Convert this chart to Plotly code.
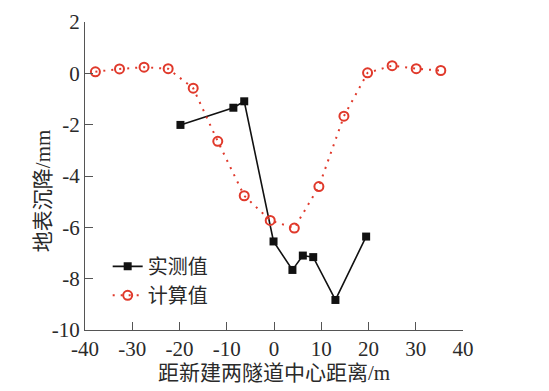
import plotly.graph_objects as go

meas_x = [-19.8, -8.6, -6.3, -0.1, 3.9, 6.1, 8.3, 13.0, 19.5]
meas_y = [-2.01, -1.34, -1.09, -6.55, -7.66, -7.10, -7.16, -8.83, -6.36]

calc_x = [-37.8, -32.7, -27.5, -22.4, -17.1, -11.9, -6.3, -0.8, 4.3, 9.5, 14.8, 19.8, 25.0, 30.1, 35.3]
calc_y = [0.06, 0.17, 0.24, 0.18, -0.58, -2.65, -4.77, -5.73, -6.03, -4.41, -1.67, 0.02, 0.30, 0.18, 0.11]

x_ticks = [-40, -30, -20, -10, 0, 10, 20, 30, 40]
y_ticks = [2, 0, -2, -4, -6, -8, -10]

red = "#e0392b"
serif = "Liberation Serif, Times New Roman, serif"
cjk = "Liberation Serif, Noto Sans CJK SC"
txt = "#2a2a2a"

fig = go.Figure()
fig.add_trace(go.Scatter(
    x=meas_x, y=meas_y, mode="lines+markers", name="实测值",
    line=dict(color="#111111", width=1.6),
    marker=dict(symbol="square", size=8, color="#111111"),
))
fig.add_trace(go.Scatter(
    x=calc_x, y=calc_y, mode="lines+markers", name="计算值",
    line=dict(color=red, width=2, dash="2px,6px"),
    marker=dict(symbol="circle-open", size=9, color=red, line=dict(width=2, color=red)),
))

axis_common = dict(
    showgrid=False, zeroline=False, showline=True, linecolor="#555555", linewidth=1.2,
    ticks="inside", ticklen=8, tickwidth=1.2, tickcolor="#555555",
    tickfont=dict(family=serif, size=21, color=txt), automargin=False,
)
fig.update_xaxes(range=[-40, 40], tickvals=x_ticks, ticktext=[str(v) for v in x_ticks],
                 title=dict(text="距新建两隧道中心距离/m", font=dict(family=cjk, size=21, color=txt), standoff=0),
                 **axis_common)
fig.update_yaxes(range=[-10, 2], tickvals=y_ticks, ticktext=[str(v) for v in y_ticks],
                 **axis_common)

fig.add_annotation(text="地表沉降/mm", xref="paper", yref="paper", x=-0.111, y=0.451,
                   xanchor="center", yanchor="middle", textangle=-90, showarrow=False,
                   font=dict(family=cjk, size=21, color=txt))

fig.update_layout(
    width=541, height=383,
    margin=dict(l=77, r=86, t=14, b=61),
    paper_bgcolor="white", plot_bgcolor="white",
    showlegend=True,
    legend=dict(x=0.06, y=0.27, xanchor="left", yanchor="top", bgcolor="rgba(0,0,0,0)",
                font=dict(family=cjk, size=20, color=txt), tracegroupgap=0,
                itemwidth=30),
)

fig.write_html("out.html")
